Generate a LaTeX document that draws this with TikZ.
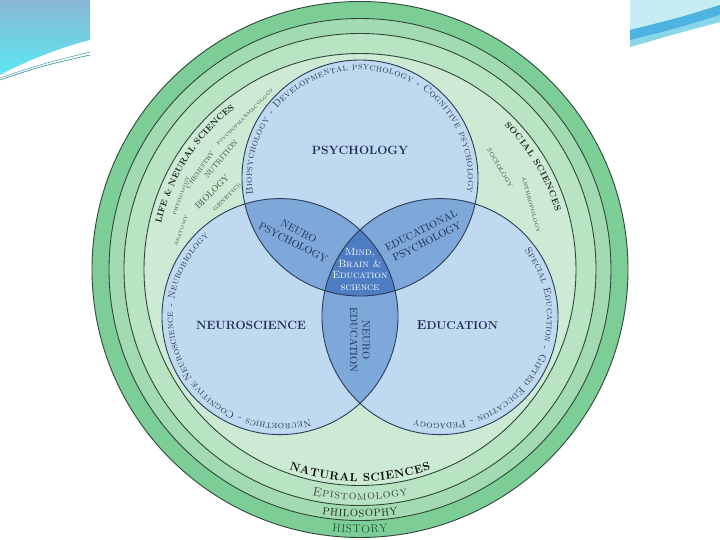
\documentclass[tikz,border=0pt]{standalone}
\usepackage{xcolor}
\usepackage{tikz}
\usetikzlibrary{decorations.text}

\definecolor{history}{HTML}{7DCD97}
\definecolor{philo}{HTML}{A2DBB2}
\definecolor{episto}{HTML}{B9E4C4}
\definecolor{natsci}{HTML}{CDEAD4}
\definecolor{ringline}{HTML}{2F4838}
\definecolor{vennfill}{HTML}{BFD9F1}
\definecolor{lensfill}{HTML}{7EA8DA}
\definecolor{mbefill}{HTML}{4F7DC3}
\definecolor{vennline}{HTML}{2C3B56}
\definecolor{venntext}{HTML}{1F2C4A}
\definecolor{arctext}{HTML}{2E3A56}
\definecolor{greentext}{HTML}{1F2B1F}
\definecolor{smallgreen}{HTML}{37523A}
\definecolor{histtext}{HTML}{1E5A34}
\definecolor{slidetop}{HTML}{88B6D4}
\definecolor{slidecyan}{HTML}{5DE8F2}
\definecolor{slidepale}{HTML}{C6EDF3}
\definecolor{slideblue}{HTML}{4DB3E0}
\definecolor{slidemid}{HTML}{86D7EA}
\definecolor{slideline}{HTML}{2A8C9E}

\tikzset{
  ring/.style={draw=ringline, line width=0.9pt},
  venn/.style={draw=vennline, line width=0.9pt},
  arclabel/.style={decorate, decoration={text along path, text align={fit to path}, text={#1}}},
  field/.style={text=venntext, font=\bfseries\fontsize{12}{14}\selectfont},
  overlap/.style={text=venntext, align=center, font=\fontsize{10.5}{12.5}\selectfont},
  subject/.style={text=smallgreen, inner sep=0pt, font=\fontsize{#1}{#1}\selectfont},
}

\begin{document}
\begin{tikzpicture}[x=1pt, y=1pt]
\useasboundingbox (-360,-270.5) rectangle (360,269.5);
\fill[white] (-360,-270.5) rectangle (360,269.5);
% slide corners
\shade[top color=slidetop, bottom color=slidecyan] (-360,269.5) -- (-270,269.5) -- (-270,229.5)
  .. controls (-300,222) and (-335,208) .. (-360,194.5) -- cycle;
\draw[slideline, line width=0.6pt] (-360,189.5) .. controls (-320,203) .. (-270,214.5);
\draw[slideline, line width=0.4pt] (-360,191.5) .. controls (-320,205) .. (-270,217.5);
\fill[slidepale] (270,269.5) -- (360,269.5) -- (360,247.5) .. controls (320,237) .. (270,222.5) -- cycle;
\fill[slidemid] (270,229.5) .. controls (320,242) .. (360,254.5) -- (360,247.5) .. controls (320,237) .. (270,222.5) -- cycle;
\fill[slideblue] (270,239.5) .. controls (320,252) .. (360,264.5) -- (360,254.5) .. controls (320,242) .. (270,229.5) -- cycle;

% history, philosophy, epistomology, natural sciences
\foreach \r/\c in {268/history,251/philo,236/episto,216/natsci}
  \draw[ring, fill=\c] (0,0) circle (\r);

% the three fields and their overlaps
\coordinate (psyc) at (0,91.5);
\coordinate (neur) at (-80,-47.1);
\coordinate (educ) at (80,-47.1);
\foreach \c in {psyc,neur,educ} \fill[vennfill] (\c) circle (118);
\begin{scope}
  \clip (psyc) circle (118);
  \fill[lensfill] (neur) circle (118) (educ) circle (118);
\end{scope}
\begin{scope}
  \clip (neur) circle (118);
  \fill[lensfill] (educ) circle (118);
\end{scope}
\begin{scope}
  \clip (psyc) circle (118);
  \clip (neur) circle (118);
  \fill[mbefill] (educ) circle (118);
\end{scope}
\foreach \c in {psyc,neur,educ} \draw[venn] (\c) circle (118);

% sub-fields around the circles
\path[arclabel={|\scshape\fontsize{10}{10}\selectfont|Biopsychology - Developmental psychology - Cognitive psychology},
  decoration={text color=arctext}] (psyc) ++(189:108) arc[start angle=189, end angle=-8, radius=108];
\path[arclabel={|\scshape\fontsize{10}{10}\selectfont|Neuroethics - Cognitive Neuroscience - Neurobiology},
  decoration={text color=arctext}] (neur) ++(-73.5:107) arc[start angle=-73.5, end angle=-228.4, radius=107];
\path[arclabel={|\scshape\fontsize{10}{10}\selectfont|Special Education - Gifted Education - Pedagogy},
  decoration={text color=arctext}] (educ) ++(38:107) arc[start angle=38, end angle=-104, radius=107];

% ring titles
\path[arclabel={|\bfseries\fontsize{8.8}{8.8}\selectfont|LIFE {\&} NEURAL SCIENCES},
  decoration={text color=greentext}] (0,0) ++(167:204) arc[start angle=167, end angle=128, radius=204];
\path[arclabel={|\bfseries\fontsize{8.8}{8.8}\selectfont|SOCIAL SCIENCES},
  decoration={text color=greentext}] (0,0) ++(45:204) arc[start angle=45, end angle=16.5, radius=204];
\path[arclabel={|\bfseries\fontsize{11.5}{11.5}\selectfont|NATURAL SCIENCES},
  decoration={text color=black}] (0,0) ++(-109.5:212) arc[start angle=-109.5, end angle=-70.5, radius=212];
\path[arclabel={|\scshape\fontsize{12.5}{12.5}\selectfont|Epistomology},
  decoration={text color=greentext!85}] (0,0) ++(-102:230.5) arc[start angle=-102, end angle=-78, radius=230.5];
\path[arclabel={|\fontsize{10.5}{10.5}\selectfont|PHILOSOPHY},
  decoration={text color=greentext}] (0,0) ++(-98.8:247.5) arc[start angle=-98.8, end angle=-81.2, radius=247.5];
\path[arclabel={|\fontsize{11.5}{11.5}\selectfont|HISTORY},
  decoration={text color=histtext}] (0,0) ++(-96.1:263.5) arc[start angle=-96.1, end angle=-83.9, radius=263.5];

% field names
\node[field] (psylabel) at (0,119.5) {PSYCHOLOGY};
\node[field] (neurolabel) at (-109,-55.5) {NEUROSCIENCE};
\node[field] (edulabel) at (97.5,-55.5) {\fontsize{13}{14}\selectfont E\fontsize{11.5}{14}\selectfont DUCATION};
\node[overlap, rotate=-27] (neuropsy) at (-64,32.5) {NEURO\\PSYCHOLOGY};
\node[overlap, rotate=27] (edupsy) at (64,33.5) {EDUCATIONAL\\PSYCHOLOGY};
\node[overlap, rotate=-90] (neuroedu) at (0,-70.5) {NEURO\\EDUCATION};
\node[text=white, align=center, font=\scshape\fontsize{10.5}{11.5}\selectfont] (mbe) at (0,0)
  {Mind,\\Brain \&\\Education\\science};

% disciplines inside the rings
\node[subject=4.5, rotate=45] (pharm) at (-115,152.5) {PSYCHOPHARMACOLOGY};
\node[subject=6, rotate=55] (chem) at (-160,99.5) {CHEMISTRY};
\node[subject=7.5, rotate=50] (nutri) at (-139,110.5) {NUTRITION};
\node[subject=9, rotate=45] (bio) at (-148,77.5) {BIOLOGY};
\node[subject=5.3, rotate=45] (gene) at (-133,72.5) {GENETICS};
\node[subject=4.5, rotate=70] (physio) at (-179,73.5) {PHYSIOLOGY};
\node[subject=4.5, rotate=70] (anat) at (-179,38.5) {ANATOMY};
\node[subject=6, rotate=-60] (socio) at (140,101.5) {SOCIOLOGY};
\node[subject=5, rotate=-75] (anthro) at (171,64.5) {ANTHROPOLOGY};
\end{tikzpicture}
\end{document}
